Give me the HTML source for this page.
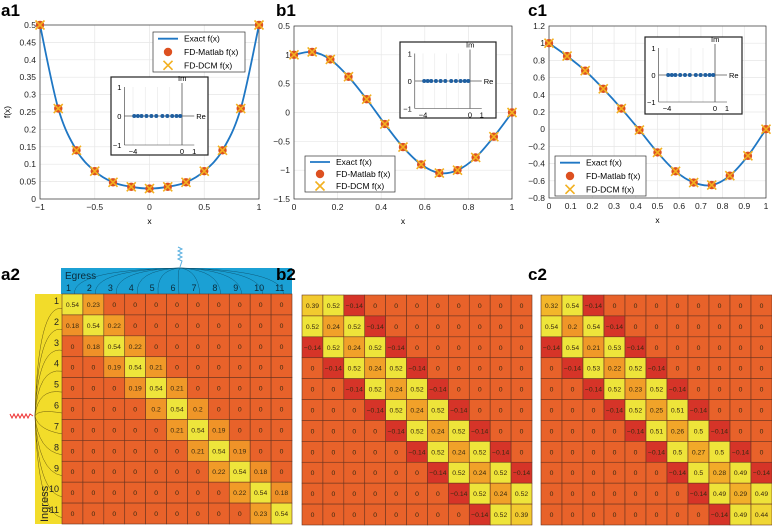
<!DOCTYPE html>
<html><head><meta charset="utf-8"><style>
body{margin:0;background:#fff;width:772px;height:526px;overflow:hidden;font-family:"Liberation Sans",sans-serif}
svg{position:absolute;left:0;top:0}
</style></head><body>
<svg id="fig" width="772" height="526" viewBox="0 0 772 526" xmlns="http://www.w3.org/2000/svg" font-family="Liberation Sans, sans-serif"></svg>
<script>
// ---------- data ----------
const aX=[-1,-0.8333,-0.6667,-0.5,-0.3333,-0.1667,0,0.1667,0.3333,0.5,0.6667,0.8333,1];
const aY=[0.5,0.26,0.14,0.08,0.048,0.035,0.03,0.035,0.048,0.08,0.14,0.26,0.5];
const bX=[0,0.0833,0.1667,0.25,0.3333,0.4167,0.5,0.5833,0.6667,0.75,0.8333,0.9167,1];
const bY=[1,1.05,0.92,0.62,0.23,-0.2,-0.6,-0.9,-1.05,-1.0,-0.78,-0.42,0];
const cY=[1,0.85,0.68,0.47,0.24,-0.01,-0.27,-0.49,-0.62,-0.65,-0.54,-0.31,0];
const eigRe=[-3.9,-3.6,-3.3,-2.9,-2.5,-2.1,-1.6,-1.2,-0.8,-0.45,-0.15];
const aXTicks=[-1,-0.5,0,0.5,1];
const aYTicks=[0,0.05,0.1,0.15,0.2,0.25,0.3,0.35,0.4,0.45,0.5];
const bXTicks=[0,0.2,0.4,0.6,0.8,1];
const bYTicks=[-1.5,-1,-0.5,0,0.5,1,1.5];
const bYLabels=["−1.5","−1","−0.5","0","0.5","1","0.5"];
const cXTicks=[0,0.1,0.2,0.3,0.4,0.5,0.6,0.7,0.8,0.9,1];
const cYTicks=[-0.8,-0.6,-0.4,-0.2,0,0.2,0.4,0.6,0.8,1,1.2];
const matA=[
[0.54,0.23,0,0,0,0,0,0,0,0,0],
[0.18,0.54,0.22,0,0,0,0,0,0,0,0],
[0,0.18,0.54,0.22,0,0,0,0,0,0,0],
[0,0,0.19,0.54,0.21,0,0,0,0,0,0],
[0,0,0,0.19,0.54,0.21,0,0,0,0,0],
[0,0,0,0,0.2,0.54,0.2,0,0,0,0],
[0,0,0,0,0,0.21,0.54,0.19,0,0,0],
[0,0,0,0,0,0,0.21,0.54,0.19,0,0],
[0,0,0,0,0,0,0,0.22,0.54,0.18,0],
[0,0,0,0,0,0,0,0,0.22,0.54,0.18],
[0,0,0,0,0,0,0,0,0,0.23,0.54]];
const matB=[
[0.39,0.52,-0.14,0,0,0,0,0,0,0,0],
[0.52,0.24,0.52,-0.14,0,0,0,0,0,0,0],
[-0.14,0.52,0.24,0.52,-0.14,0,0,0,0,0,0],
[0,-0.14,0.52,0.24,0.52,-0.14,0,0,0,0,0],
[0,0,-0.14,0.52,0.24,0.52,-0.14,0,0,0,0],
[0,0,0,-0.14,0.52,0.24,0.52,-0.14,0,0,0],
[0,0,0,0,-0.14,0.52,0.24,0.52,-0.14,0,0],
[0,0,0,0,0,-0.14,0.52,0.24,0.52,-0.14,0],
[0,0,0,0,0,0,-0.14,0.52,0.24,0.52,-0.14],
[0,0,0,0,0,0,0,-0.14,0.52,0.24,0.52],
[0,0,0,0,0,0,0,0,-0.14,0.52,0.39]];
const matC=[
[0.32,0.54,-0.14,0,0,0,0,0,0,0,0],
[0.54,0.2,0.54,-0.14,0,0,0,0,0,0,0],
[-0.14,0.54,0.21,0.53,-0.14,0,0,0,0,0,0],
[0,-0.14,0.53,0.22,0.52,-0.14,0,0,0,0,0],
[0,0,-0.14,0.52,0.23,0.52,-0.14,0,0,0,0],
[0,0,0,-0.14,0.52,0.25,0.51,-0.14,0,0,0],
[0,0,0,0,-0.14,0.51,0.26,0.5,-0.14,0,0],
[0,0,0,0,0,-0.14,0.5,0.27,0.5,-0.14,0],
[0,0,0,0,0,0,-0.14,0.5,0.28,0.49,-0.14],
[0,0,0,0,0,0,0,-0.14,0.49,0.29,0.49],
[0,0,0,0,0,0,0,0,-0.14,0.49,0.44]];

const NS="http://www.w3.org/2000/svg";
const svg=document.getElementById('fig');
function mk(tag,attrs,parent,txt){const e=document.createElementNS(NS,tag);for(const k in attrs)e.setAttribute(k,attrs[k]);if(txt!==undefined)e.textContent=txt;(parent||svg).appendChild(e);return e;}
function fmt(v){return (v<0?"−":"")+String(Math.abs(Math.round(v*100)/100));}
function smooth(pts){let d="M"+pts[0][0]+","+pts[0][1];for(let i=0;i<pts.length-1;i++){const p0=pts[Math.max(0,i-1)],p1=pts[i],p2=pts[i+1],p3=pts[Math.min(pts.length-1,i+2)];const c1=[p1[0]+(p2[0]-p0[0])/6,p1[1]+(p2[1]-p0[1])/6],c2=[p2[0]-(p3[0]-p1[0])/6,p2[1]-(p3[1]-p1[1])/6];d+=` C${c1[0]},${c1[1]} ${c2[0]},${c2[1]} ${p2[0]},${p2[1]}`;}return d;}

function linePanel(o){
  const g=mk('g',{});
  
  
  const sx=v=>o.x0+(v-o.xmin)/(o.xmax-o.xmin)*(o.x1-o.x0);
  const sy=v=>o.y1-(v-o.ymin)/(o.ymax-o.ymin)*(o.y1-o.y0);
  o.xt.forEach(t=>mk('line',{x1:sx(t),x2:sx(t),y1:o.y0,y2:o.y1,stroke:'#e6e6e6','stroke-width':0.7},g));
  o.yt.forEach(t=>mk('line',{x1:o.x0,x2:o.x1,y1:sy(t),y2:sy(t),stroke:'#e6e6e6','stroke-width':0.7},g));
  mk('rect',{x:o.x0,y:o.y0,width:o.x1-o.x0,height:o.y1-o.y0,fill:'none',stroke:'#333','stroke-width':0.7},g);
  o.xt.forEach(t=>{const l=mk('text',{x:sx(t),y:o.y1+11,'font-size':8.5,'text-anchor':'middle',fill:'#222'},g,fmt(t));});
  o.yt.forEach((t,i)=>{const l=mk('text',{x:o.x0-4,y:sy(t)+3,'font-size':8.5,'text-anchor':'end',fill:'#222'},g,o.yl?o.yl[i]:fmt(t));});
  const xl=mk('text',{x:(o.x0+o.x1)/2,y:o.y1+25,'font-size':8.5,'text-anchor':'middle'},g,'x');
  
  if(o.ylab){const yl=mk('text',{x:10,y:(o.y0+o.y1)/2,'font-size':8.5,'text-anchor':'middle',transform:`rotate(-90 10 ${(o.y0+o.y1)/2})`},g,'f(x)');}
  const pts=o.xs.map((x,i)=>[sx(x),sy(o.ys[i])]);
  const line=mk('path',{d:smooth(pts),fill:'none',stroke:'#1f77c4','stroke-width':1.8},g);
  
  pts.forEach(p=>{const c=mk('circle',{cx:p[0],cy:p[1],r:4.2,fill:'#dd5020'},g);
    const x=mk('path',{d:`M${p[0]-4.5},${p[1]-4.5}L${p[0]+4.5},${p[1]+4.5}M${p[0]-4.5},${p[1]+4.5}L${p[0]+4.5},${p[1]-4.5}`,stroke:'#f2b020','stroke-width':1.6},g);});
  // legend
  const L=o.leg;const lg=mk('g',{},g);
  mk('rect',{x:L[0],y:L[1],width:L[2],height:L[3],fill:'#fff',stroke:'#333','stroke-width':0.7},lg);
  const rh=L[3]/3;const names=['Exact f(x)','FD-Matlab f(x)','FD-DCM f(x)'];
  names.forEach((n,i)=>{const cy=L[1]+rh*(i+0.5);const ix=L[0]+15;
    if(i==0)mk('line',{x1:ix-10,x2:ix+10,y1:cy,y2:cy,stroke:'#1f77c4','stroke-width':1.8},lg);
    if(i==1)mk('circle',{cx:ix,cy:cy,r:4.2,fill:'#dd5020'},lg);
    if(i==2)mk('path',{d:`M${ix-4.5},${cy-4.5}L${ix+4.5},${cy+4.5}M${ix-4.5},${cy+4.5}L${ix+4.5},${cy-4.5}`,stroke:'#f2b020','stroke-width':1.6},lg);
    const t=mk('text',{x:L[0]+31,y:cy+3,'font-size':8.5},lg,n);});
  // inset
  const I=o.ins;const ig=mk('g',{},g);
  mk('rect',{x:I.bx,y:I.by,width:I.bw,height:I.bh,fill:'#fff',stroke:'#222','stroke-width':1.2},ig);
  const ex=v=>I.z+v*I.k, ey=v=>I.y0-v*I.ky;
  const left=ex(-4.7),right=ex(1);
  [-4,-3,-2,-1,0].forEach(t=>mk('line',{x1:ex(t),x2:ex(t),y1:ey(1),y2:ey(-1),stroke:'#e6e6e6','stroke-width':0.6},ig));
  mk('line',{x1:left,x2:left,y1:ey(1),y2:ey(-1),stroke:'#333','stroke-width':0.6},ig);
  mk('line',{x1:left,x2:right,y1:ey(-1),y2:ey(-1),stroke:'#333','stroke-width':0.6},ig);
  mk('line',{x1:left,x2:right,y1:ey(0),y2:ey(0),stroke:'#555','stroke-width':0.8},ig);
  mk('line',{x1:ex(0),x2:ex(0),y1:ey(1)-4,y2:ey(-1),stroke:'#555','stroke-width':0.8},ig);
  mk('text',{x:ex(0)-4,y:ey(1)-6,'font-size':7.5},ig,'Im');
  mk('text',{x:right+2,y:ey(0)+3,'font-size':7.5},ig,'Re');
  [[1,'1'],[0,'0'],[-1,'−1']].forEach(a=>mk('text',{x:left-3,y:ey(a[0])+3,'font-size':7.5,'text-anchor':'end'},ig,a[1]));
  [[-4,'−4'],[0,'0'],[1,'1']].forEach(a=>mk('text',{x:ex(a[0]),y:ey(-1)+9,'font-size':7.5,'text-anchor':'middle'},ig,a[1]));
  eigRe.forEach(v=>{const c=mk('circle',{cx:ex(v),cy:ey(0),r:2,fill:'#1f5fa0'},ig);});
  const pl=mk('text',{x:o.lx,y:16,'font-size':17,'font-weight':'bold'},g,o.label);
}
linePanel({name:'panel-a1',label:'a1',lx:1,x0:40,x1:259,y0:25,y1:199,xmin:-1,xmax:1,ymin:0,ymax:0.5,xt:aXTicks,yt:aYTicks,ylab:true,xs:aX,ys:aY,
  leg:[153,32,92,40],ins:{bx:111,by:77,bw:97,bh:78,z:182,k:12.25,y0:116,ky:29}});
linePanel({name:'panel-b1',label:'b1',lx:276,x0:294,x1:512,y0:26,y1:199,xmin:0,xmax:1,ymin:-1.5,ymax:1.5,xt:bXTicks,yt:bYTicks,yl:bYLabels,xs:bX,ys:bY,
  leg:[305,156,90,36],ins:{bx:400,by:42,bw:96,bh:76,z:470,k:11.75,y0:81,ky:27.5}});
linePanel({name:'panel-c1',label:'c1',lx:528,x0:549,x1:766,y0:26,y1:198,xmin:0,xmax:1,ymin:-0.8,ymax:1.2,xt:cXTicks,yt:cYTicks,xs:bX,ys:cY,
  leg:[555,156,91,40],ins:{bx:645,by:37,bw:97,bh:77,z:715,k:12,y0:75,ky:27}});

// ---------- heatmaps ----------
const stops=[[-0.14,[214,52,40]],[0,[232,98,42]],[0.2,[240,150,40]],[0.32,[243,182,42]],[0.4,[242,205,48]],[0.5,[238,228,58]],[0.6,[238,230,60]]];
function col(v){for(let i=0;i<stops.length-1;i++){const a=stops[i],b=stops[i+1];if(v<=b[0]){const t=Math.max(0,(v-a[0])/(b[0]-a[0]));const c=a[1].map((x,j)=>Math.round(x+(b[1][j]-x)*t));return `rgb(${c})`;}}return 'rgb(238,230,60)';}
function heat(m,x0,x1,y0,y1,name){
  const g=mk('g',{});
  const n=m.length,cw=(x1-x0)/n,ch=(y1-y0)/n;
  m.forEach((row,r)=>row.forEach((v,c)=>{
    const rc=mk('rect',{x:x0+c*cw,y:y0+r*ch,width:cw,height:ch,fill:col(v),stroke:'#6a3420','stroke-width':0.6},g);
    
    mk('text',{x:x0+(c+0.5)*cw,y:y0+(r+0.5)*ch+2.5,'font-size':6.8,'text-anchor':'middle',fill:'#3a2a10'},g,fmt(v));
  }));
}
// a2 decorations
const hdr=mk('rect',{x:61,y:268,width:231,height:27,fill:'#1ba0d4'});
const ing=mk('rect',{x:35,y:294,width:27,height:230,fill:'#f2dc2a'});
const cwA=230/11;
for(let i=0;i<11;i++){
  const cx=62+(i+0.5)*cwA;
  mk('path',{d:`M180,268 Q${cx},270 ${cx+2},294`,fill:'none',stroke:'#0d5a7a','stroke-width':0.5});
  mk('text',{x:62+i*cwA+4,y:291,'font-size':9,fill:'#0a2a3a'},svg,String(i+1));
  const cy=294+(i+0.5)*cwA;
  mk('path',{d:`M35,416 Q38,${cy} 62,${cy+4}`,fill:'none',stroke:'#6a5a10','stroke-width':0.5});
  mk('text',{x:59,y:294+i*cwA+10,'font-size':9,'text-anchor':'end',fill:'#222'},svg,String(i+1));
}
mk('text',{x:65,y:279,'font-size':10,fill:'#0a2a3a'},svg,'Egress');
const it=mk('text',{x:48,y:522,'font-size':11,transform:'rotate(-90 48 522)',fill:'#222'},svg,'Ingress');
mk('path',{d:'M10,414 l2,4 l2,-4 l2,4 l2,-4 l2,4 l2,-4 l2,4 l2,-4 l2,4 l2,-4 l3,2',fill:'none',stroke:'#e33','stroke-width':1});
mk('path',{d:'M178,247 l4,2 l-4,2 l4,2 l-4,2 l4,2 l-4,2 l4,2 l-2,6',fill:'none',stroke:'#5ab0e0','stroke-width':1});
mk('text',{x:1,y:280,'font-size':17,'font-weight':'bold'},svg,'a2');
mk('text',{x:276,y:280,'font-size':17,'font-weight':'bold'},svg,'b2');
mk('text',{x:528,y:280,'font-size':17,'font-weight':'bold'},svg,'c2');
heat(matA,62,292,294,524,'heatmap-a2');
heat(matB,302,532,295,525,'heatmap-b2');
heat(matC,541,772,295,525,'heatmap-c2');
</script>
</body></html>
